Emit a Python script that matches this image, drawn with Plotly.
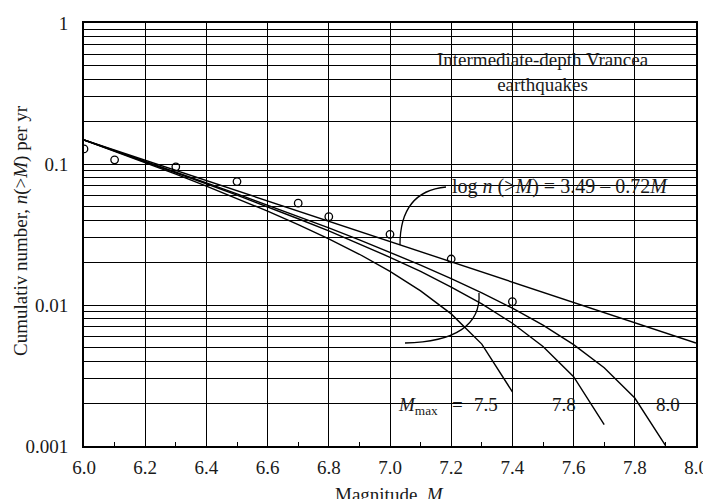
import plotly.graph_objects as go

# ---------------- data ----------------
obs_M = [6.0, 6.1, 6.3, 6.5, 6.7, 6.8, 7.0, 7.2, 7.4]
obs_n = [0.128, 0.107, 0.0955, 0.075, 0.0527, 0.0423, 0.0317, 0.0212, 0.01055]

line_M = [6.0, 8.0]
line_n = [0.148, 0.00537]

c75_M = [6.0, 6.1, 6.2, 6.3, 6.4, 6.5, 6.6, 6.7, 6.8, 6.9, 7.0, 7.1, 7.2, 7.3, 7.4]
c75_n = [0.1479, 0.1233, 0.1024, 0.0847, 0.0697, 0.0570, 0.0463, 0.0371, 0.0294,
         0.0229, 0.0173, 0.0126, 0.00865, 0.00528, 0.00242]

c78_M = [6.0, 6.1, 6.2, 6.3, 6.4, 6.5, 6.6, 6.7, 6.8, 6.9, 7.0, 7.1, 7.2, 7.3, 7.4,
         7.5, 7.6, 7.7]
c78_n = [0.1479, 0.1241, 0.1040, 0.0869, 0.0724, 0.0601, 0.0497, 0.0409, 0.0335,
         0.0272, 0.0218, 0.0173, 0.0134, 0.0102, 0.00742, 0.00508, 0.00310, 0.00142]

c80_M = [6.0, 6.1, 6.2, 6.3, 6.4, 6.5, 6.6, 6.7, 6.8, 6.9, 7.0, 7.1, 7.2, 7.3, 7.4,
         7.5, 7.6, 7.7, 7.8, 7.9]
c80_n = [0.1479, 0.1245, 0.1046, 0.0878, 0.0735, 0.0614, 0.0512, 0.0425, 0.0352,
         0.0290, 0.0237, 0.0192, 0.0154, 0.0122, 0.00950, 0.00719, 0.00524,
         0.00359, 0.00219, 0.00101]

x_ticks = [6.0, 6.2, 6.4, 6.6, 6.8, 7.0, 7.2, 7.4, 7.6, 7.8, 8.0]
x_ticktext = ["6.0", "6.2", "6.4", "6.6", "6.8", "7.0", "7.2", "7.4", "7.6", "7.8", "8.0"]
y_ticks = [0.001, 0.01, 0.1, 1]
y_ticktext = ["0.001", "0.01", "0.1", "1"]

# ---------------- layout helpers ----------------
# the page body has an 8px margin, so the figure is drawn from (8, 8)
OFF = 8
W, H = 711 - OFF, 499 - OFF
PL, PR, PT, PB = 84, 696, 23, 446          # plot area in window pixels
FONT = "Liberation Serif"
TXT = "#1a1a1a"


def fx(x):
    return (x - PL) / (PR - PL)


def fy(y):
    return (PB - y) / (PB - PT)


fig = go.Figure()

line_style = dict(color="black", width=1.4)
fig.add_trace(go.Scatter(x=line_M, y=line_n, mode="lines", line=line_style))
fig.add_trace(go.Scatter(x=c75_M, y=c75_n, mode="lines", line=line_style))
fig.add_trace(go.Scatter(x=c78_M, y=c78_n, mode="lines", line=line_style))
fig.add_trace(go.Scatter(x=c80_M, y=c80_n, mode="lines", line=line_style))
fig.add_trace(go.Scatter(x=obs_M, y=obs_n, mode="markers",
                         marker=dict(symbol="circle-open", size=7.5, color="black",
                                     line=dict(width=1.3, color="black"))))

# white label backgrounds (between gridlines and traces)
boxes = [(405, 38, 681, 106), (440, 173, 685, 197), (392, 390, 510, 423),
         (543, 390, 579, 423), (652, 390, 695, 423)]
shapes = []
for (x0, y0, x1, y1) in boxes:
    shapes.append(dict(type="rect", xref="paper", yref="paper",
                       x0=fx(x0), x1=fx(x1), y0=fy(y1), y1=fy(y0),
                       fillcolor="white", line=dict(width=0), layer="between"))


def path(pts):
    (a, b), (c, d), (e, f), (g, h) = pts
    return ("M {:.4f},{:.4f} C {:.4f},{:.4f} {:.4f},{:.4f} {:.4f},{:.4f}".format(
        fx(a), fy(b), fx(c), fy(d), fx(e), fy(f), fx(g), fy(h)))


shapes.append(dict(type="path", xref="paper", yref="paper",
                   path=path([(446, 187), (415, 190), (400, 210), (400, 245)]),
                   line=dict(color="black", width=1.3)))
shapes.append(dict(type="path", xref="paper", yref="paper",
                   path=path([(479, 293), (481, 325), (455, 342), (405, 343)]),
                   line=dict(color="black", width=1.3)))

ann = []


def label(text, x, y, size=19, xanchor="center", angle=0):
    ann.append(dict(text=text, xref="paper", yref="paper", x=fx(x), y=fy(y),
                    xanchor=xanchor, yanchor="middle", showarrow=False,
                    textangle=angle, font=dict(family=FONT, size=size, color=TXT)))


label("Intermediate-depth Vrancea<br>earthquakes", 543, 72)
label("log <i>n</i> (&gt;<i>M</i>) = 3.49 – 0.72<i>M</i>", 450, 186, size=20, xanchor="left")
label("<i>M</i><sub>max</sub>", 418, 406)
label("=", 457, 404)
label("7.5", 486, 404)
label("7.8", 564, 404)
label("8.0", 668, 404)
label("Magnitude, <i>M</i>", 389, 494)
label("Cumulativ number, <i>n</i>(&gt;<i>M</i>) per yr", 21, 231, angle=-90)

minor_y = [m * 10 ** e for e in (-3, -2, -1) for m in range(2, 10)]

fig.update_layout(
    width=W, height=H,
    margin=dict(l=PL - OFF, r=711 - PR, t=PT - OFF, b=499 - PB, autoexpand=False),
    paper_bgcolor="white", plot_bgcolor="white",
    showlegend=False,
    shapes=shapes, annotations=ann,
    font=dict(family=FONT, size=19, color=TXT),
    xaxis=dict(range=[6.0, 8.0], tickmode="array", tickvals=x_ticks, ticktext=x_ticktext,
               showgrid=True, gridcolor="black", gridwidth=1.2,
               showline=True, linecolor="black", linewidth=2, mirror=True,
               ticks="inside", ticklen=4, tickcolor="black", tickwidth=1.2,
               ticklabelstandoff=3, zeroline=False,
               minor=dict(dtick=0.1, tick0=6.0, ticks="inside", ticklen=4,
                          tickcolor="black", tickwidth=1.2, showgrid=False),
               tickfont=dict(family=FONT, size=19, color=TXT)),
    yaxis=dict(type="log", range=[-3, 0], tickmode="array", tickvals=y_ticks,
               ticktext=y_ticktext,
               showgrid=True, gridcolor="black", gridwidth=1.2,
               showline=True, linecolor="black", linewidth=2, mirror=True,
               ticks="", ticklabelstandoff=10, zeroline=False,
               minor=dict(tickmode="array", tickvals=minor_y, showgrid=True,
                          gridcolor="black", gridwidth=1.2, ticks=""),
               tickfont=dict(family=FONT, size=19, color=TXT)),
)

fig.write_html("out.html")
